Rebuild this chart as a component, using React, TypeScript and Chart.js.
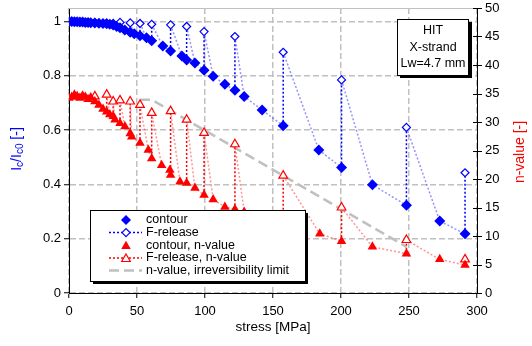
import React, { useEffect, useRef } from 'react';
import { Chart, registerables } from 'chart.js';

Chart.register(...registerables);

// ---- data (stress in MPa) ----
const contourStress = [0, 2, 4, 6, 8, 10, 12, 14, 16, 19, 22, 25, 27.7, 30, 32.5, 35, 37.5, 41, 45, 48, 52.2, 57, 60.8, 69, 74.7, 83, 86.5, 92.6, 99.3, 106, 114.6, 122, 128.8, 142, 157.5, 183.7, 200.4, 223.1, 248.1, 272.6, 291.2];
const contourIc = [1.0, 1.0, 0.999, 0.999, 0.998, 0.998, 0.997, 0.997, 0.996, 0.995, 0.994, 0.993, 0.992, 0.99, 0.987, 0.982, 0.977, 0.969, 0.961, 0.955, 0.948, 0.94, 0.929, 0.91, 0.892, 0.873, 0.858, 0.847, 0.821, 0.799, 0.769, 0.747, 0.724, 0.674, 0.616, 0.527, 0.462, 0.399, 0.323, 0.265, 0.218];

const nStress = [0, 2, 4, 6, 8, 10, 12, 14, 16, 19, 22, 25, 27.7, 30, 32.5, 33.8, 37.5, 41.1, 45, 46.1, 52.2, 58.3, 60.8, 68.1, 74.2, 74.7, 81.6, 86.5, 92.6, 99.3, 106, 114.6, 122, 128.8, 142, 157.5, 184.4, 200.4, 223.1, 248.1, 272.6, 291.2];
const contourN = [34.2, 34.4, 34.8, 34.5, 34.2, 34.6, 34.4, 34.0, 34.3, 33.6, 33.0, 32.3, 31.8, 31.3, 31.0, 30.4, 29.8, 29.2, 28.0, 27.4, 26.3, 25.1, 23.6, 22.4, 21.6, 20.7, 19.5, 19.3, 18.4, 17.2, 16.4, 15.1, 14.7, 14.2, 13.5, 12.5, 10.4, 9.1, 8.1, 6.9, 5.9, 4.9];

const releaseStress = [19, 27.7, 32.5, 37.5, 45, 52.2, 60.8, 74.7, 86.5, 99.3, 122, 157.5, 200.4, 248.1, 291.2];
const releaseIc = [0.996, 0.994, 0.993, 0.997, 0.995, 0.993, 0.99, 0.988, 0.982, 0.963, 0.945, 0.887, 0.785, 0.61, 0.443];
const releaseN = [34.5, 34.8, 33.6, 33.8, 33.6, 33.0, 31.6, 31.9, 30.4, 28.1, 26.1, 20.6, 15.0, 9.3, 5.9];

const limitStress = [52.2, 60.8, 248.1];
const limitN = [33.9, 33.9, 8.1];

const legendLabels = ['contour', 'F-release', 'contour, n-value', 'F-release, n-value', 'n-value, irreversibility limit'];
const infoLines = ['HIT', 'X-strand', 'Lw=4.7 mm'];

const BLUE = '#0000ff';
const RED = '#ff0000';
const GRAY = '#c0c0c0';
const FONT = '"Liberation Sans", Arial, sans-serif';

// chronological sequence: contour point, then release point at same stress
function sequence(cs: number[], cv: number[], rs: number[], rv: number[]) {
  const pts: { x: number; y: number }[] = [];
  const isRel: boolean[] = [];
  cs.forEach((x, i) => {
    pts.push({ x, y: cv[i] });
    isRel.push(false);
    const j = rs.indexOf(x);
    if (j >= 0) {
      pts.push({ x, y: rv[j] });
      isRel.push(true);
    }
  });
  return { pts, isRel };
}

function diamond(ctx: CanvasRenderingContext2D, x: number, y: number, r: number) {
  ctx.beginPath();
  ctx.moveTo(x - r, y);
  ctx.lineTo(x, y - r);
  ctx.lineTo(x + r, y);
  ctx.lineTo(x, y + r);
  ctx.closePath();
}
function triangle(ctx: CanvasRenderingContext2D, x: number, y: number, r: number) {
  ctx.beginPath();
  ctx.moveTo(x, y - r);
  ctx.lineTo(x + 0.866 * r, y + 0.5 * r);
  ctx.lineTo(x - 0.866 * r, y + 0.5 * r);
  ctx.closePath();
}

const noPad = (s: any) => {
  s.paddingTop = 0;
  s.paddingBottom = 0;
  s.paddingLeft = 0;
  s.paddingRight = 0;
};

const decor = {
  id: 'decor',
  beforeDatasetsDraw(chart: any) {
    const { ctx, chartArea: a } = chart;
    ctx.save();
    ctx.strokeStyle = GRAY;
    ctx.lineWidth = 1;
    ctx.beginPath();
    ctx.moveTo(a.left, a.top + 0.5);
    ctx.lineTo(a.right, a.top + 0.5);
    ctx.stroke();
    ctx.restore();
  },
  afterDraw(chart: any) {
    const { ctx, chartArea: a, scales } = chart;
    const y2 = scales.y2;
    ctx.save();
    // right axis crossing ticks
    ctx.strokeStyle = '#000';
    ctx.lineWidth = 1;
    ctx.beginPath();
    for (const t of y2.ticks) {
      const y = Math.round(y2.getPixelForValue(t.value)) + 0.5;
      ctx.moveTo(a.right - 4, y);
      ctx.lineTo(a.right + 5, y);
    }
    ctx.stroke();

    // x title
    ctx.fillStyle = '#000';
    ctx.font = `13.5px ${FONT}`;
    ctx.textAlign = 'center';
    ctx.textBaseline = 'middle';
    ctx.fillText('stress [MPa]', (a.left + a.right) / 2, 327);

    // right title
    ctx.save();
    ctx.translate(520, 152);
    ctx.rotate(-Math.PI / 2);
    ctx.fillStyle = RED;
    ctx.font = `14px ${FONT}`;
    ctx.fillText('n-value [-]', 0, 0);
    ctx.restore();

    // left title with subscripts
    ctx.save();
    ctx.translate(17, 149);
    ctx.rotate(-Math.PI / 2);
    ctx.fillStyle = BLUE;
    const pieces: [string, boolean][] = [['I', false], ['c', true], ['/I', false], ['c0', true], [' [-]', false]];
    const mainF = `14px ${FONT}`;
    const subF = `10px ${FONT}`;
    let total = 0;
    for (const [s, sub] of pieces) {
      ctx.font = sub ? subF : mainF;
      total += ctx.measureText(s).width;
    }
    let px = -total / 2;
    ctx.textAlign = 'left';
    for (const [s, sub] of pieces) {
      ctx.font = sub ? subF : mainF;
      ctx.fillText(s, px, sub ? 3 : 0);
      px += ctx.measureText(s).width;
    }
    ctx.restore();

    // info box
    ctx.fillStyle = '#000';
    ctx.fillRect(400, 22, 72, 56);
    ctx.fillStyle = '#fff';
    ctx.fillRect(397, 19, 71, 56);
    ctx.strokeStyle = '#000';
    ctx.lineWidth = 1;
    ctx.strokeRect(397.5, 19.5, 71, 56);
    ctx.fillStyle = '#000';
    ctx.font = `12.5px ${FONT}`;
    ctx.textAlign = 'center';
    infoLines.forEach((l, i) => ctx.fillText(l, 433, 31 + i * 16.3));

    // legend
    const L = 90, T = 210, R = 305, B = 281;
    ctx.fillStyle = '#000';
    ctx.fillRect(L + 3, T + 3, R - L, B - T);
    ctx.fillStyle = '#fff';
    ctx.fillRect(L, T, R - L, B - T);
    ctx.strokeRect(L + 0.5, T + 0.5, R - L, B - T);
    const rows = [220, 232.6, 245.3, 258, 270.6];
    const lx1 = 109, lx2 = 142, mx = 126;
    ctx.fillStyle = BLUE;
    diamond(ctx, mx, rows[0], 5);
    ctx.fill();
    ctx.strokeStyle = BLUE;
    ctx.lineWidth = 1.5;
    ctx.setLineDash([2, 2]);
    ctx.beginPath();
    ctx.moveTo(lx1, rows[1]);
    ctx.lineTo(lx2, rows[1]);
    ctx.stroke();
    ctx.setLineDash([]);
    ctx.lineWidth = 1.2;
    ctx.fillStyle = '#fff';
    diamond(ctx, mx, rows[1], 4);
    ctx.fill();
    ctx.stroke();
    ctx.fillStyle = RED;
    triangle(ctx, mx, rows[2] + 1, 5.5);
    ctx.fill();
    ctx.strokeStyle = RED;
    ctx.lineWidth = 1.5;
    ctx.setLineDash([2, 2]);
    ctx.beginPath();
    ctx.moveTo(lx1, rows[3]);
    ctx.lineTo(lx2, rows[3]);
    ctx.stroke();
    ctx.setLineDash([]);
    ctx.lineWidth = 1.2;
    ctx.fillStyle = '#fff';
    triangle(ctx, mx, rows[3] + 1, 5);
    ctx.fill();
    ctx.stroke();
    ctx.strokeStyle = GRAY;
    ctx.lineWidth = 2.5;
    ctx.setLineDash([10, 5]);
    ctx.beginPath();
    ctx.moveTo(lx1, rows[4]);
    ctx.lineTo(lx2, rows[4]);
    ctx.stroke();
    ctx.setLineDash([]);
    ctx.fillStyle = '#000';
    ctx.font = `12.5px ${FONT}`;
    ctx.textAlign = 'left';
    ctx.textBaseline = 'middle';
    legendLabels.forEach((t, i) => ctx.fillText(t, 146, rows[i]));
    ctx.restore();
  },
};

export default function App() {
  const ref = useRef<HTMLCanvasElement>(null);
  useEffect(() => {
    const blueSeq = sequence(contourStress, contourIc, releaseStress, releaseIc);
    const redSeq = sequence(nStress, contourN, releaseStress, releaseN);
    const chart = new Chart(ref.current as HTMLCanvasElement, {
      type: 'scatter',
      data: {
        datasets: [
          {
            label: legendLabels[0],
            data: contourStress.map((x, i) => ({ x, y: contourIc[i] })),
            yAxisID: 'y',
            showLine: false,
            pointStyle: 'rectRot',
            pointRadius: 5.5,
            backgroundColor: BLUE,
            borderColor: BLUE,
            pointBorderWidth: 0,
          },
          {
            label: legendLabels[2],
            data: nStress.map((x, i) => ({ x, y: contourN[i] })),
            yAxisID: 'y2',
            showLine: false,
            pointStyle: 'triangle',
            pointRadius: 5.5,
            backgroundColor: RED,
            borderColor: RED,
            pointBorderWidth: 0,
          },
          {
            label: legendLabels[1],
            data: blueSeq.pts,
            yAxisID: 'y',
            showLine: true,
            borderColor: BLUE,
            borderWidth: 1.5,
            borderDash: [2, 2],
            segment: {
              borderColor: (c: any) => (Math.abs(c.p0.x - c.p1.x) < 0.5 ? BLUE : 'rgba(60,60,255,0.55)'),
            },
            pointStyle: 'rectRot',
            pointRadius: blueSeq.isRel.map((r) => (r ? 4 : 0)),
            pointBackgroundColor: '#fff',
            pointBorderColor: BLUE,
            pointBorderWidth: 1.2,
          },
          {
            label: legendLabels[3],
            data: redSeq.pts,
            yAxisID: 'y2',
            showLine: true,
            borderColor: RED,
            borderWidth: 1.5,
            borderDash: [2, 2],
            segment: {
              borderColor: (c: any) => (Math.abs(c.p0.x - c.p1.x) < 0.5 ? RED : 'rgba(255,60,60,0.55)'),
            },
            pointStyle: 'triangle',
            pointRadius: redSeq.isRel.map((r) => (r ? 5 : 0)),
            pointBackgroundColor: '#fff',
            pointBorderColor: RED,
            pointBorderWidth: 1.2,
          },
          {
            label: legendLabels[4],
            data: limitStress.map((x, i) => ({ x, y: limitN[i] })),
            yAxisID: 'y2',
            showLine: true,
            borderColor: GRAY,
            borderWidth: 2.5,
            borderDash: [10, 5],
            pointRadius: 0,
          },
        ],
      },
      options: {
        responsive: false,
        animation: false,
        events: [],
        layout: { padding: { top: 8, left: 0, right: 0, bottom: 0 } },
        plugins: { legend: { display: false }, tooltip: { enabled: false } },
        scales: {
          x: {
            type: 'linear',
            min: 0,
            max: 300,
            afterFit: (s: any) => { s.height = 53; noPad(s); },
            ticks: { stepSize: 50, color: '#000', font: { size: 13, family: FONT }, padding: 6, maxRotation: 0 },
            grid: { color: GRAY, lineWidth: 1.5, tickLength: 5, tickColor: '#000', tickWidth: 1, tickBorderDash: [] },
            border: { color: '#000', width: 1, dash: [6, 3] },
          },
          y: {
            type: 'linear',
            position: 'left',
            min: 0,
            max: 1.05,
            afterFit: (s: any) => { s.width = 69; noPad(s); },
            ticks: {
              stepSize: 0.2,
              includeBounds: false,
              color: '#000',
              font: { size: 13, family: FONT },
              padding: 3,
              callback: (v: any) => String(Math.round(Number(v) * 10) / 10),
            },
            grid: { color: GRAY, lineWidth: 1.5, tickLength: 5, tickColor: '#000', tickWidth: 1, tickBorderDash: [] },
            border: { color: '#000', width: 1, dash: [6, 3] },
          },
          y2: {
            type: 'linear',
            position: 'right',
            min: 0,
            max: 50,
            afterFit: (s: any) => { s.width = 55; noPad(s); },
            ticks: { stepSize: 5, color: '#000', font: { size: 13, family: FONT }, padding: 8 },
            grid: { drawOnChartArea: false, drawTicks: false },
            border: { color: '#000', width: 1 },
          },
        },
      },
      plugins: [decor],
    } as any);
    return () => chart.destroy();
  }, []);
  return (
    <div style={{ position: 'absolute', left: 0, top: 0, width: 532, height: 346, background: '#fff' }}>
      <canvas ref={ref} width={532} height={346} style={{ display: 'block', width: 532, height: 346 }} />
    </div>
  );
}
